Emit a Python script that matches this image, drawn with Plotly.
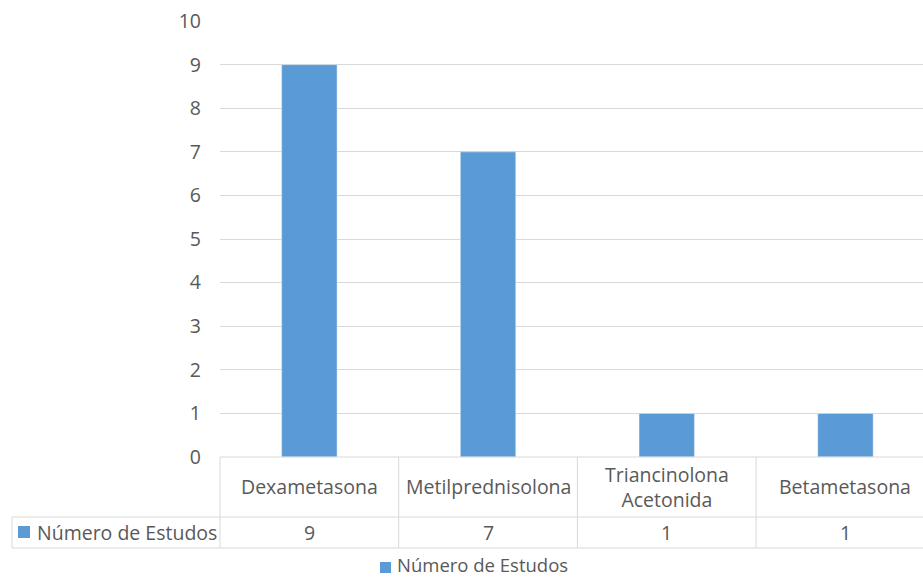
import plotly.graph_objects as go

categories = ["Dexametasona", "Metilprednisolona", "Triancinolona<br>Acetonida", "Betametasona"]
values = [9, 7, 1, 1]
series_name = "Número de Estudos"
y_ticks = list(range(0, 11))

W, H = 923, 578
PL, PR, PT, PB = 220, 923, 21, 457   # plot area in pixels
CAT_W = 178.7                        # pixel width of one category
FONT = "Open Sans"
GREY = "#595959"
GRID = "#d9d9d9"
BAR = "#5b9bd5"
FS = 19.5

x_pos = list(range(len(categories)))
x_max = -0.5 + (PR - PL) / CAT_W


def pxx(px):
    return (px - PL) / (PR - PL)


def pxy(py):
    return (PB - py) / (PB - PT)


def cat_px(i):
    return PL + (i + 0.5) * CAT_W


fig = go.Figure()
fig.add_trace(go.Bar(x=x_pos, y=values, marker_color=BAR, width=0.31,
                     name=series_name, showlegend=False))

shapes = []
line = dict(color=GRID, width=1)
P = dict(xref="paper", yref="paper")
# horizontal table lines
shapes.append(dict(type="line", **P, x0=pxx(PL), x1=pxx(PR + 20), y0=0, y1=0, line=line))
for py in (517, 548):
    shapes.append(dict(type="line", **P, x0=pxx(12), x1=pxx(PR + 20),
                       y0=pxy(py), y1=pxy(py), line=line))
# vertical table lines
shapes.append(dict(type="line", **P, x0=pxx(12), x1=pxx(12),
                   y0=pxy(517), y1=pxy(548), line=line))
for i in range(len(categories)):
    xb = pxx(PL + i * CAT_W)
    shapes.append(dict(type="line", **P, x0=xb, x1=xb, y0=0, y1=pxy(548), line=line))
# legend squares
shapes.append(dict(type="rect", **P, x0=pxx(18), x1=pxx(30),
                   y0=pxy(526), y1=pxy(538), fillcolor=BAR, line=dict(width=0)))
shapes.append(dict(type="rect", **P, x0=pxx(380), x1=pxx(391),
                   y0=pxy(562), y1=pxy(573), fillcolor=BAR, line=dict(width=0)))

A = dict(showarrow=False, yanchor="middle",
         font=dict(size=FS, color=GREY, family=FONT))
annotations = []
for i, (c, v) in enumerate(zip(categories, values)):
    annotations.append(dict(**P, **A, x=pxx(cat_px(i)), y=pxy(487), text=c, xanchor="center"))
    annotations.append(dict(**P, **A, x=pxx(cat_px(i)), y=pxy(532), text=str(v), xanchor="center"))
annotations.append(dict(**P, **A, x=pxx(35), y=pxy(532), text=series_name, xanchor="left"))
annotations.append(dict(**P, x=pxx(396), y=pxy(578), text=series_name, xanchor="left",
                        yanchor="bottom", showarrow=False, borderpad=0,
                        font=dict(size=18.5, color=GREY, family=FONT)))

fig.update_layout(
    width=W, height=H,
    margin=dict(l=PL, r=W - PR, t=PT, b=H - PB, pad=0),
    plot_bgcolor="white", paper_bgcolor="white",
    font=dict(family=FONT, color=GREY, size=FS),
    shapes=shapes, annotations=annotations,
    showlegend=False,
    xaxis=dict(range=[-0.5, x_max], showticklabels=False, showgrid=False,
               zeroline=False, showline=False, fixedrange=True),
    yaxis=dict(range=[0, 10.002], tickvals=y_ticks, showgrid=True, gridcolor=GRID,
               gridwidth=1, zeroline=False, showline=False, ticks="",
               ticklabelstandoff=18, tickfont=dict(size=FS, color=GREY, family=FONT)),
)

fig.write_html("out.html")
